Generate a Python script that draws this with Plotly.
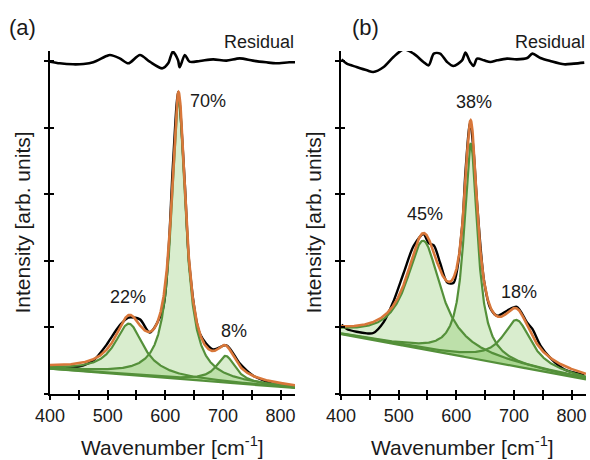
import numpy as np
import plotly.graph_objects as go

# ---------------- data ----------------
# Lorentzian peak parameters: centre [cm-1], amplitude [a.u.], FWHM [cm-1]
a_centers = [537, 623, 705]
a_amps = [0.77, 4.20, 0.40]
a_fwhm = [60, 30, 40]
a_base = [0.38, 0.09]          # linear background at 400 and 825 cm-1
a_labels = ["22%", "70%", "8%"]
a_label_x = [535, 674, 720]
a_label_y = [1.46, 4.40, 0.95]

b_centers = [543, 625, 705]
b_amps = [1.63, 3.22, 0.70]
b_fwhm = [72, 28, 60]
b_base = [0.90, 0.22]
b_labels = ["45%", "38%", "18%"]
b_label_x = [546, 630, 708]
b_label_y = [2.70, 4.38, 1.53]

# residual (measured - fit), read at these wavenumbers
a_res_x = [400, 417, 440, 458, 475, 498, 504, 521, 536, 556, 573, 595, 605,
           613, 622, 625, 634, 642, 660, 683, 706, 729, 752, 775, 792, 815, 825]
a_res_y = [-0.01, -0.035, -0.05, -0.045, -0.02, 0.075, 0.09, 0.04, -0.035, 0.09,
           -0.01, -0.11, -0.035, 0.14, 0.015, -0.095, 0.09, -0.01, 0.0, 0.025,
           0.005, 0.04, 0.005, -0.02, -0.035, -0.02, -0.02]

b_res_x = [401, 410, 427, 445, 456, 474, 491, 509, 526, 543, 552, 561, 572, 584,
           595, 610, 616, 624, 630, 636, 648, 659, 671, 688, 705, 723, 732, 746,
           763, 787, 804, 822]
b_res_y = [0.025, -0.04, -0.09, -0.14, -0.165, -0.09, 0.06, 0.175, 0.11, -0.015,
           -0.065, 0.11, 0.11, -0.015, -0.075, 0.01, 0.125, -0.015, -0.075, 0.035,
           0.01, -0.015, 0.01, 0.035, 0.025, 0.045, 0.11, 0.045, 0.0, -0.05,
           -0.04, -0.025]

res_offset = 5.0
x_ticks = [400, 500, 600, 700, 800]
x_range = [400, 825]
y_range = [0, 5.15]
y_ticks = [0, 1, 2, 3, 4, 5]
x_title = "Wavenumber [cm<sup>-1</sup>]"
y_title = "Intensity [arb. units]"

ORANGE = "#d8773a"
GREEN = "#54903a"
FILL = "rgba(120,190,80,0.28)"
FONT = "Liberation Sans, Arial, sans-serif"
TXT = "#1a1a1a"


def lorentz(x, c, a, w):
    return a / (1.0 + ((x - c) / (w / 2.0)) ** 2)


def background(x, b):
    return b[0] + (b[1] - b[0]) * (x - 400.0) / 425.0


fig = go.Figure()
grid = np.linspace(400, 825, 851)

panels = [
    ("x", "y", a_centers, a_amps, a_fwhm, a_base, a_res_x, a_res_y,
     a_labels, a_label_x, a_label_y),
    ("x2", "y2", b_centers, b_amps, b_fwhm, b_base, b_res_x, b_res_y,
     b_labels, b_label_x, b_label_y),
]

annotations = []
for (xa, ya, cs, amps, ws, base, rx, ry, labs, lx, ly) in panels:
    bg = background(grid, base)
    comps = [lorentz(grid, c, a, w) for c, a, w in zip(cs, amps, ws)]
    total = bg + sum(comps)
    # fills
    for comp in comps:
        fig.add_trace(go.Scatter(x=grid, y=bg, mode="lines", line=dict(width=0),
                                 xaxis=xa, yaxis=ya, showlegend=False, hoverinfo="skip"))
        fig.add_trace(go.Scatter(x=grid, y=bg + comp, mode="lines", line=dict(width=0),
                                 fill="tonexty", fillcolor=FILL,
                                 xaxis=xa, yaxis=ya, showlegend=False, hoverinfo="skip"))
    # measured data = fit + residual
    rx_arr = np.array(rx, dtype=float)
    meas = background(rx_arr, base) + sum(lorentz(rx_arr, c, a, w) for c, a, w in zip(cs, amps, ws)) + np.array(ry)
    fig.add_trace(go.Scatter(x=rx, y=meas, mode="lines",
                             line=dict(color="black", width=2.4, shape="spline", smoothing=0.8),
                             xaxis=xa, yaxis=ya, showlegend=False))
    # components
    fig.add_trace(go.Scatter(x=grid, y=bg, mode="lines", line=dict(color=GREEN, width=2.2),
                             xaxis=xa, yaxis=ya, showlegend=False))
    for comp in comps:
        fig.add_trace(go.Scatter(x=grid, y=bg + comp, mode="lines", line=dict(color=GREEN, width=2.2),
                                 xaxis=xa, yaxis=ya, showlegend=False))
    # total fit
    fig.add_trace(go.Scatter(x=grid, y=total, mode="lines", line=dict(color=ORANGE, width=2.6),
                             xaxis=xa, yaxis=ya, showlegend=False))
    # residual
    fig.add_trace(go.Scatter(x=rx, y=[res_offset + v for v in ry], mode="lines",
                             line=dict(color="black", width=2.6, shape="spline", smoothing=0.8),
                             xaxis=xa, yaxis=ya, showlegend=False, cliponaxis=False))
    for t, x0, y0 in zip(labs, lx, ly):
        annotations.append(dict(x=x0, y=y0, xref=xa, yref=ya, text=t, showarrow=False,
                                xanchor="center", yanchor="middle",
                                font=dict(size=18, color=TXT, family=FONT)))

xdom_a = [50 / 590, 295 / 590]
xdom_b = [341 / 590, 586 / 590]
ydom = [1 - 394 / 460, 1 - 51 / 460]

for xr in (xdom_a[1], xdom_b[1]):
    annotations.append(dict(x=xr + 1 / 590, y=1 - 42 / 460, xref="paper", yref="paper",
                            text="Residual", showarrow=False, xanchor="right", yanchor="middle",
                            font=dict(size=18, color=TXT, family=FONT)))

for xc, lab in [(22 / 590, "(a)"), (365 / 590, "(b)")]:
    annotations.append(dict(x=xc, y=1 - 28 / 460, xref="paper", yref="paper", text=lab,
                            showarrow=False, xanchor="center", yanchor="middle",
                            font=dict(size=22, color=TXT, family=FONT)))

# x-axis titles
for xc in (172 / 590, 462 / 590):
    annotations.append(dict(x=xc, y=1 - 446 / 460, xref="paper", yref="paper", text=x_title,
                            showarrow=False, xanchor="center", yanchor="middle",
                            font=dict(size=21, color=TXT, family=FONT)))


def xaxis(dom, anchor, ticks, labels=True, overlay=None):
    d = dict(domain=dom, range=x_range, anchor=anchor, tickvals=x_ticks,
             ticks=ticks, ticklen=4, tickwidth=2, tickcolor="black",
             minor=dict(ticks=ticks, dtick=50, tick0=400, ticklen=4, tickwidth=2, tickcolor="black"),
             showgrid=False, zeroline=False, fixedrange=True, automargin=False,
             tickfont=dict(size=18, color=TXT, family=FONT))
    if labels:
        d.update(showline=True, linecolor="black", linewidth=2, showticklabels=True)
    else:
        d.update(showline=False, showticklabels=False, overlaying=overlay)
    return d


def yaxis(anchor, ticks, title=True, overlay=None):
    d = dict(domain=ydom, range=y_range, anchor=anchor, tickvals=y_ticks,
             ticks=ticks, ticklen=4, tickwidth=2, tickcolor="black", automargin=False,
             showticklabels=False, showgrid=False, zeroline=False, fixedrange=True)
    if title:
        d.update(showline=True, linecolor="black", linewidth=2,
                 title=dict(text=y_title, standoff=8,
                            font=dict(size=21, color=TXT, family=FONT)))
    else:
        d.update(showline=False, overlaying=overlay)
    return d


fig.update_layout(
    width=590, height=460,
    margin=dict(l=0, r=0, t=0, b=0, autoexpand=False),
    paper_bgcolor="white", plot_bgcolor="rgba(0,0,0,0)",
    showlegend=False,
    xaxis=xaxis(xdom_a, "y", "outside"),
    yaxis=yaxis("x", "outside"),
    xaxis2=xaxis(xdom_b, "y2", "outside"),
    yaxis2=yaxis("x2", "outside"),
    xaxis3=xaxis(xdom_a, "y3", "inside", labels=False, overlay="x"),
    yaxis3=yaxis("x3", "inside", title=False, overlay="y"),
    xaxis4=xaxis(xdom_b, "y4", "inside", labels=False, overlay="x2"),
    yaxis4=yaxis("x4", "inside", title=False, overlay="y2"),
    annotations=annotations,
)

# empty traces so the overlay tick axes are drawn
fig.add_trace(go.Scatter(x=[None], y=[None], xaxis="x3", yaxis="y3", showlegend=False, hoverinfo="skip"))
fig.add_trace(go.Scatter(x=[None], y=[None], xaxis="x4", yaxis="y4", showlegend=False, hoverinfo="skip"))

fig.write_html("out.html", config={"displayModeBar": False},
               post_script="document.body.style.margin='0';document.body.style.overflow='hidden';")
